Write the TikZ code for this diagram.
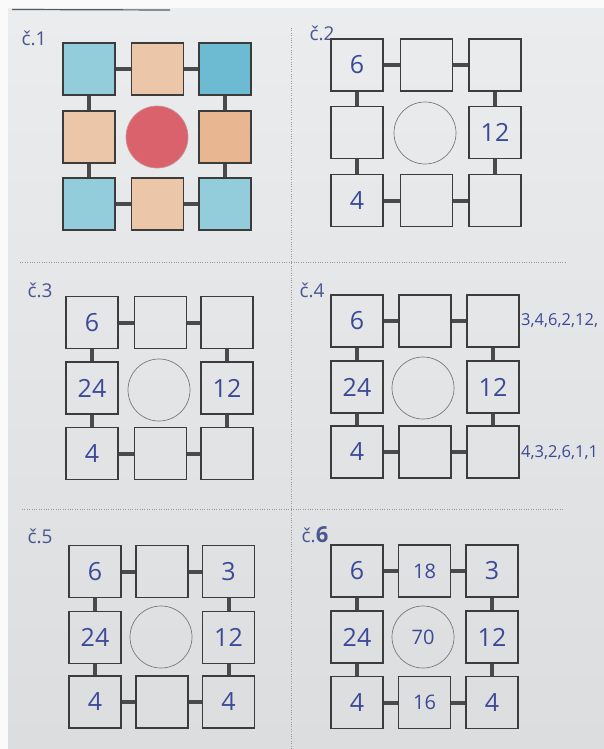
\documentclass[tikz,border=0pt]{standalone}
\usepackage{fontspec}
\setmainfont{Open Sans}
\newfontfamily\handfont{Open Sans}
\newcommand\NumF{\handfont\fontsize{25}{25}\selectfont}
\newcommand\SmallNumF{\handfont\fontsize{20}{20}\selectfont}
\newcommand\TagF{\handfont\fontsize{19}{19}\selectfont}
\newcommand\SideF{\handfont\fontsize{16.5}{17}\selectfont}
\definecolor{paperA}{HTML}{EBECEE}
\definecolor{paperB}{HTML}{DCDDDF}
\definecolor{boxline}{HTML}{3C3C3C}
\definecolor{circline}{HTML}{7A7A7A}
\definecolor{linkc}{HTML}{4A4A4A}
\definecolor{ink}{HTML}{3B4A98}
\definecolor{tagc}{HTML}{4A5690}
\definecolor{dotc}{HTML}{9A9A9A}
\definecolor{blueA}{HTML}{93CCDB}
\definecolor{blueB}{HTML}{6DBBD2}
\definecolor{peachA}{HTML}{ECC6A8}
\definecolor{peachB}{HTML}{E8B690}
\definecolor{redfill}{HTML}{D9626C}
\definecolor{redline}{HTML}{C9939A}
\tikzset{
  cell/.style={draw=boxline, line width=1.2pt, minimum width=52pt, minimum height=52pt,
    inner sep=0pt, font=\NumF, text=ink},
  hub/.style={circle, draw=circline, line width=0.7pt, minimum size=62pt, inner sep=0pt,
    font=\SmallNumF, text=ink},
  link/.style={draw=linkc, line width=4pt},
  tag/.style={font=\TagF, text=tagc, inner sep=0pt},
  side/.style={font=\SideF, text=ink, inner sep=0pt, anchor=west},
  guide/.style={draw=dotc, line width=0.6pt, dash pattern=on 0.8pt off 1.6pt},
}
\newcommand\RingLinks[1]{%
  \draw[link] (#1tl) -- (#1tm);
  \draw[link] (#1tm) -- (#1tr);
  \draw[link] (#1tl) -- (#1ml);
  \draw[link] (#1ml) -- (#1bl);
  \draw[link] (#1tr) -- (#1mr);
  \draw[link] (#1mr) -- (#1br);
  \draw[link] (#1bl) -- (#1bm);
  \draw[link] (#1bm) -- (#1br);}
\begin{document}
\begin{tikzpicture}[x=1pt,y=-1pt]
\useasboundingbox (0,0) rectangle (604,749);
% paper
\fill[white!96!gray] (0,0) rectangle (604,749);
\shade[top color=paperA, bottom color=paperB] (8,9) rectangle (604,749);
\draw[gray!70!black, line width=1.2pt] (12,9.5) -- (170,10);
% dotted guides
\draw[guide] (291,28) -- (291,749);
\draw[guide] (20,262) -- (565,262);
\draw[guide] (22,509) -- (563,509);

% ---------- panel 1 ----------
\node[tag] (t1) at (34,38) {č.1};
\node[cell, fill=blueA]  (p1tl) at (89,69)    {};
\node[cell, fill=peachA] (p1tm) at (157.5,69) {};
\node[cell, fill=blueB]  (p1tr) at (225,69)   {};
\node[cell, fill=peachA] (p1ml) at (89,137)   {};
\node[hub, fill=redfill, draw=redline] (p1c) at (157,137) {};
\node[cell, fill=peachB] (p1mr) at (225,137)  {};
\node[cell, fill=blueA]  (p1bl) at (89,204)   {};
\node[cell, fill=peachA] (p1bm) at (157.5,204){};
\node[cell, fill=blueA]  (p1br) at (225,204)  {};
\RingLinks{p1}

% ---------- panel 2 ----------
\node[tag] (t2) at (322,33) {č.2};
\node[cell] (p2tl) at (357,65)     {6};
\node[cell] (p2tm) at (426.5,65)   {};
\node[cell] (p2tr) at (495,65)     {};
\node[cell] (p2ml) at (357,132.5)  {};
\node[hub]  (p2c)  at (425,133)    {};
\node[cell] (p2mr) at (495,132.5)  {12};
\node[cell] (p2bl) at (357,200.5)  {4};
\node[cell] (p2bm) at (426.5,200.5){};
\node[cell] (p2br) at (495,200.5)  {};
\RingLinks{p2}

% ---------- panel 3 ----------
\node[tag] (t3) at (40,290) {č.3};
\node[cell] (p3tl) at (92,322.5)    {6};
\node[cell] (p3tm) at (160.5,322.5) {};
\node[cell] (p3tr) at (227,322.5)   {};
\node[cell] (p3ml) at (92,388)      {24};
\node[hub]  (p3c)  at (159,390)     {};
\node[cell] (p3mr) at (227,388)     {12};
\node[cell] (p3bl) at (92,453.5)    {4};
\node[cell] (p3bm) at (160.5,453.5) {};
\node[cell] (p3br) at (227,453.5)   {};
\RingLinks{p3}

% ---------- panel 4 ----------
\node[tag] (t4) at (312,290) {č.4};
\node[cell] (p4tl) at (357,321) {6};
\node[cell] (p4tm) at (425,321) {};
\node[cell] (p4tr) at (493,321) {};
\node[cell] (p4ml) at (357,387) {24};
\node[hub]  (p4c)  at (423,388) {};
\node[cell] (p4mr) at (493,387) {12};
\node[cell] (p4bl) at (357,452) {4};
\node[cell] (p4bm) at (425,452) {};
\node[cell] (p4br) at (493,452) {};
\RingLinks{p4}
\node[side] (p4s1) at (521,321) {3,4,6,2,12,};
\node[side] (p4s2) at (521,453) {4,3,2,6,1,1};

% ---------- panel 5 ----------
\node[tag] (t5) at (40,536) {č.5};
\node[cell] (p5tl) at (95,571.5)  {6};
\node[cell] (p5tm) at (162,571.5) {};
\node[cell] (p5tr) at (228.5,571.5){3};
\node[cell] (p5ml) at (95,637.5)  {24};
\node[hub]  (p5c)  at (161,637)   {};
\node[cell] (p5mr) at (228.5,637.5){12};
\node[cell] (p5bl) at (95,702)    {4};
\node[cell] (p5bm) at (162,702)   {};
\node[cell] (p5br) at (228.5,702) {4};
\RingLinks{p5}

% ---------- panel 6 ----------
\node[tag] (t6) at (315,535) {č.{\fontsize{22}{22}\selectfont\bfseries 6}};
\node[cell] (p6tl) at (357,571)   {6};
\node[cell, font=\SmallNumF] (p6tm) at (424.5,571) {18};
\node[cell] (p6tr) at (492,571)   {3};
\node[cell] (p6ml) at (357,637)   {24};
\node[hub]  (p6c)  at (423,637)   {70};
\node[cell] (p6mr) at (492,637)   {12};
\node[cell] (p6bl) at (357,702.5) {4};
\node[cell, font=\SmallNumF] (p6bm) at (424.5,702.5) {16};
\node[cell] (p6br) at (492,702.5) {4};
\RingLinks{p6}
\end{tikzpicture}
\end{document}
